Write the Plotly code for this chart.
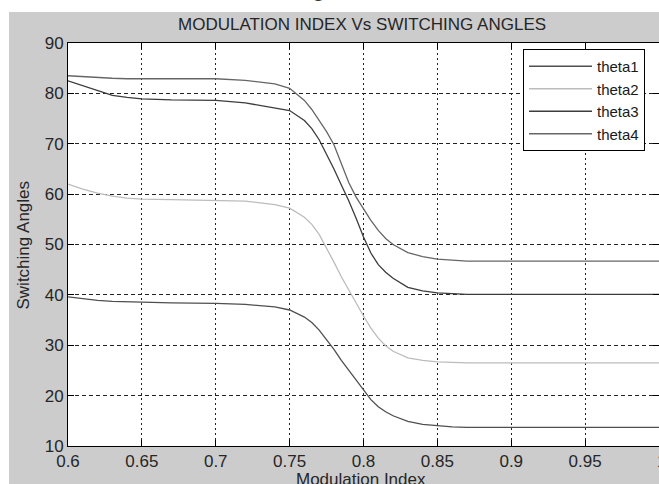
import plotly.graph_objects as go

# ---- data ----
mod_index = [0.60, 0.61, 0.62, 0.63, 0.64, 0.65, 0.67, 0.70, 0.72, 0.74, 0.75,
             0.76, 0.765, 0.77, 0.775, 0.78, 0.785, 0.79, 0.795, 0.80, 0.805,
             0.81, 0.815, 0.82, 0.83, 0.84, 0.85, 0.86, 0.87, 0.90, 0.95, 1.00]

theta1 = [39.6, 39.2, 38.9, 38.7, 38.6, 38.5, 38.4, 38.3, 38.1, 37.6, 37.0,
          35.6, 34.5, 33.0, 31.2, 29.2, 27.0, 25.0, 23.0, 21.0, 19.2,
          17.8, 16.8, 16.0, 14.9, 14.3, 14.0, 13.8, 13.7, 13.7, 13.7, 13.7]

theta2 = [62.0, 61.0, 60.2, 59.6, 59.2, 59.0, 58.9, 58.8, 58.6, 57.9, 57.2,
          55.4, 54.0, 52.0, 49.4, 46.5, 43.6, 40.9, 38.3, 35.8, 33.4,
          31.4, 29.9, 28.8, 27.5, 27.0, 26.7, 26.6, 26.5, 26.5, 26.5, 26.5]

theta3 = [82.5, 81.5, 80.5, 79.6, 79.2, 78.9, 78.7, 78.6, 78.1, 77.2, 76.6,
          74.6, 73.0, 70.8, 68.0, 65.0, 61.8, 58.7, 55.2, 51.5, 48.3,
          46.0, 44.5, 43.3, 41.5, 40.8, 40.4, 40.2, 40.1, 40.1, 40.1, 40.1]

theta4 = [83.5, 83.3, 83.1, 83.0, 82.9, 82.9, 82.9, 82.9, 82.6, 81.9, 81.0,
          78.6, 76.8, 74.6, 72.4, 69.8, 66.0, 62.3, 59.4, 57.0, 54.8,
          52.8, 51.2, 50.0, 48.4, 47.6, 47.1, 46.9, 46.7, 46.7, 46.7, 46.7]

series_names = ["theta1", "theta2", "theta3", "theta4"]
series_vals = [theta1, theta2, theta3, theta4]
series_colors = ["#4f4f4f", "#bcbcbc", "#3c3c3c", "#666666"]

x_ticks = [0.6, 0.65, 0.7, 0.75, 0.8, 0.85, 0.9, 0.95, 1.0]
x_ticklabels = ["0.6", "0.65", "0.7", "0.75", "0.8", "0.85", "0.9", "0.95", "1"]
y_ticks = [10, 20, 30, 40, 50, 60, 70, 80, 90]

FONT = "Liberation Sans, Arial, sans-serif"
TXT = "#262626"
W, H = 659, 484
ML, MR, MT, MB = 68, 0, 43, 38
PW, PH = W - ML - MR, H - MT - MB

def px_x(p):
    return (p - ML) / PW

def px_y(p):
    return (H - MB - p) / PH

fig = go.Figure()
for name, vals, col in zip(series_names, series_vals, series_colors):
    fig.add_trace(go.Scatter(x=mod_index, y=vals, mode="lines", name=name,
                             line=dict(color=col, width=1.3)))

axis_common = dict(showline=True, linecolor="black", linewidth=1, mirror="ticks",
                   ticks="inside", ticklen=6, tickcolor="black",
                   showgrid=True, gridcolor="#222222", gridwidth=1,
                   zeroline=False,
                   tickfont=dict(family=FONT, size=17, color=TXT))

fig.update_xaxes(range=[0.6, 1.0], tickvals=x_ticks, ticktext=x_ticklabels,
                 griddash="2px,3px", **axis_common)
fig.update_yaxes(range=[10, 90], tickvals=y_ticks, griddash="4px,3px",
                 **axis_common)

fig.update_layout(
    width=W, height=H,
    margin=dict(l=ML, r=MR, t=MT, b=MB, pad=0),
    paper_bgcolor="#cccccc", plot_bgcolor="white",
    showlegend=True,
    legend=dict(x=px_x(523), y=px_y(49), xanchor="left", yanchor="top",
                bgcolor="white", bordercolor="black", borderwidth=1,
                font=dict(family=FONT, size=15, color="#1a1a1a"),
                itemwidth=63, tracegroupgap=0),
    shapes=[
        dict(type="rect", xref="paper", yref="paper", layer="below",
             x0=-0.5, x1=px_x(9), y0=-0.5, y1=1.5,
             fillcolor="white", line=dict(width=0)),
        dict(type="rect", xref="paper", yref="paper", layer="below",
             x0=-0.5, x1=1.5, y0=px_y(12), y1=1.5,
             fillcolor="white", line=dict(width=0)),
    ],
    annotations=[
        dict(text="MODULATION INDEX Vs SWITCHING ANGLES", xref="paper", yref="paper",
             x=px_x(362), y=px_y(24), xanchor="center", yanchor="middle",
             showarrow=False, font=dict(family=FONT, size=17, color=TXT)),
        dict(text="Modulation Index", xref="paper", yref="paper",
             x=px_x(361), y=px_y(480), xanchor="center", yanchor="middle",
             showarrow=False, font=dict(family=FONT, size=17, color=TXT)),
        dict(text="Switching Angles", xref="paper", yref="paper",
             x=px_x(23), y=0.5, xanchor="center", yanchor="middle", textangle=-90,
             showarrow=False, font=dict(family=FONT, size=17, color=TXT)),
        # last x tick label, partly cut by the right edge as in the reference
        dict(text="1", xref="paper", yref="paper",
             x=px_x(661), y=px_y(461), xanchor="center", yanchor="middle",
             showarrow=False, font=dict(family=FONT, size=17, color=TXT)),
        # descender of a caption letter cut by the top edge
        dict(text="g", xref="paper", yref="paper",
             x=px_x(318), y=px_y(-12), xanchor="center", yanchor="middle",
             showarrow=False, font=dict(family=FONT, size=24, color="#333333")),
    ],
)

fig.write_html("out.html")
